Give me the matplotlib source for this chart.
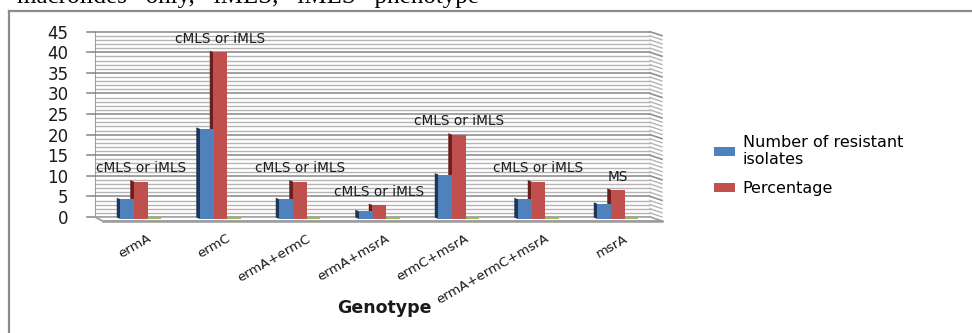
import numpy as np
import matplotlib
matplotlib.use("Agg")
import matplotlib.pyplot as plt
from matplotlib.patches import Patch, Polygon

# --- data -------------------------------------------------------------
genotypes = ["ermA", "ermC", "ermA+ermC", "ermA+msrA", "ermC+msrA",
             "ermA+ermC+msrA", "msrA"]
n_resistant = [4.3, 21.4, 4.3, 1.4, 10.3, 4.3, 3.2]
percentage = [8.6, 40.0, 8.6, 2.9, 20.0, 8.6, 6.6]
third_series = [0, 0, 0, 0, 0, 0, 0]
phenotype = ["cMLS or iMLS", "cMLS or iMLS", "cMLS or iMLS", "cMLS or iMLS",
             "cMLS or iMLS", "cMLS or iMLS", "MS"]
yticks = list(range(0, 46, 5))

# --- layout (pixels) ---------------------------------------------------
W, H = 972, 333
WALL_L, WALL_R, WALL_T, WALL_B = 95, 650, 31.7, 217
XLIM = (-0.577, 6.404)
YMAX = 45
PX_X = (WALL_R - WALL_L) / (XLIM[1] - XLIM[0])
PX_Y = (WALL_B - WALL_T) / YMAX

BLUE, RED, GREEN = "#4f81bd", "#c0504d", "#9bbb59"
BLUE_SIDE, RED_SIDE, GREEN_SIDE = "#1d3557", "#6a1f1d", "#6f8a3a"
GRID, GRID_MAJ = "#b4b4b4", "#8f8f8f"
FONT = "DejaVu Sans"

fig = plt.figure(figsize=(W / 100, H / 100), dpi=100)
ax = fig.add_axes([WALL_L / W, (H - WALL_B) / H,
                   (WALL_R - WALL_L) / W, (WALL_B - WALL_T) / H])
ax.set_xlim(*XLIM)
ax.set_ylim(0, YMAX)
for s in ax.spines.values():
    s.set_visible(False)


def dx(p):
    return p / PX_X


def dy(p):
    return p / PX_Y


x0, x1 = XLIM
# floor and right-hand side wall (depth grows with x for a bit of perspective)
floor = Polygon([(x0, 0), (x1, 0), (x1 + dx(12), -dy(4.2)), (x0 + dx(8), -dy(4.2))],
                closed=True, facecolor="white", edgecolor="#a6a6a6", lw=1.2,
                clip_on=False, zorder=1)
ax.add_patch(floor)
ax.plot([x0 + dx(8), x1 + dx(12)], [-dy(4.2), -dy(4.2)], color="#9a9a9a",
        lw=1.8, clip_on=False, zorder=1.1)

# back-wall gridlines, every unit, with darker major lines
for v in range(0, YMAX + 1):
    major = v % 5 == 0
    c = GRID_MAJ if major else GRID
    lw = 1.2 if major else 1.0
    ax.plot([x0, x1], [v, v], color=c, lw=lw, clip_on=False, zorder=0.5)
    ax.plot([x1, x1 + dx(12)], [v, v - dy(4)], color=c, lw=lw,
            clip_on=False, zorder=0.5)
    if major:
        ax.plot([x0 - dx(8), x0], [v, v], color=GRID_MAJ, lw=1.2,
                clip_on=False, zorder=0.5)
ax.plot([x0, x0], [0, YMAX], color=GRID_MAJ, lw=1.2, zorder=0.6)
ax.plot([x1, x1], [0, YMAX], color=GRID, lw=0.9, zorder=0.6)
ax.plot([x0, x0 + dx(8)], [0, -dy(4.2)], color="#a6a6a6", lw=1.2,
        clip_on=False, zorder=1.1)

ax.set_yticks(yticks)
ax.set_yticklabels([str(t) for t in yticks], fontsize=12, family=FONT,
                   color="#1a1a1a")
ax.tick_params(axis="y", length=0, pad=19)
ax.set_xticks([])

# --- bars ---------------------------------------------------------------
BASE = -dy(2)
BW = dx(13.8)
OFF = dx(13.5)
SIDE_X, SIDE_Y = dx(3.7), dy(1.5)
cats = np.arange(len(genotypes))


def bar3d(xc, vals, face, side, z):
    for xi, v in zip(xc, vals):
        xl = xi - BW / 2
        side_poly = Polygon([(xl, BASE), (xl, v), (xl - SIDE_X, v + SIDE_Y),
                             (xl - SIDE_X, BASE + SIDE_Y)], closed=True,
                            facecolor=side, edgecolor="none", clip_on=False,
                            zorder=z)
        ax.add_patch(side_poly)
    ax.bar(xc, np.array(vals) - BASE, bottom=BASE, width=BW, color=face,
           edgecolor="none", clip_on=False, zorder=z + 0.1)


bar3d(cats + OFF, third_series, GREEN, GREEN_SIDE, 2)
bar3d(cats, percentage, RED, RED_SIDE, 3)
bar3d(cats - OFF, n_resistant, BLUE, BLUE_SIDE, 4)

for xi, v, lab in zip(cats, percentage, phenotype):
    ax.annotate(lab, (xi, v), xytext=(0, 9.5), textcoords="offset points",
                ha="center", va="center", fontsize=9.8, family=FONT,
                color="#1a1a1a", zorder=6, annotation_clip=False)

for xi, lab in zip(cats, genotypes):
    ax.text(xi + dx(6), -dy(15), lab, rotation=30, rotation_mode="anchor",
            ha="right", va="top", fontsize=9.5, family=FONT, color="#1a1a1a",
            clip_on=False)

fig.text(384 / W, 1 - 308 / H, "Genotype", ha="center", va="center",
         fontsize=12.5, fontweight="bold", family=FONT, color="#1a1a1a")

handles = [Patch(facecolor=BLUE, edgecolor="none"),
           Patch(facecolor=RED, edgecolor="none")]
fig.legend(handles, ["Number of resistant\nisolates", "Percentage"],
           loc="upper left", bbox_to_anchor=(714 / W, 1 - 135 / H),
           frameon=False, prop={"family": FONT, "size": 11.5},
           handlelength=1.3, handleheight=0.45, handletextpad=0.5,
           labelspacing=0.85, borderaxespad=0, borderpad=0)

# enclosing frame and the cut-off caption line above it
fig.add_artist(plt.Line2D([9 / W, 1], [1 - 10.5 / H, 1 - 10.5 / H],
                          color="#8c8c8c", lw=1.6))
fig.add_artist(plt.Line2D([9 / W, 9 / W], [0, 1 - 10.5 / H],
                          color="#8c8c8c", lw=1.6))
fig.text(17 / W, 1 - 3.5 / H, "macrolides   only,   iMLS,   iMLS   phenotype",
         ha="left", va="baseline", fontsize=18, family="Liberation Serif",
         color="black")

fig.savefig("out.png", dpi=100)
